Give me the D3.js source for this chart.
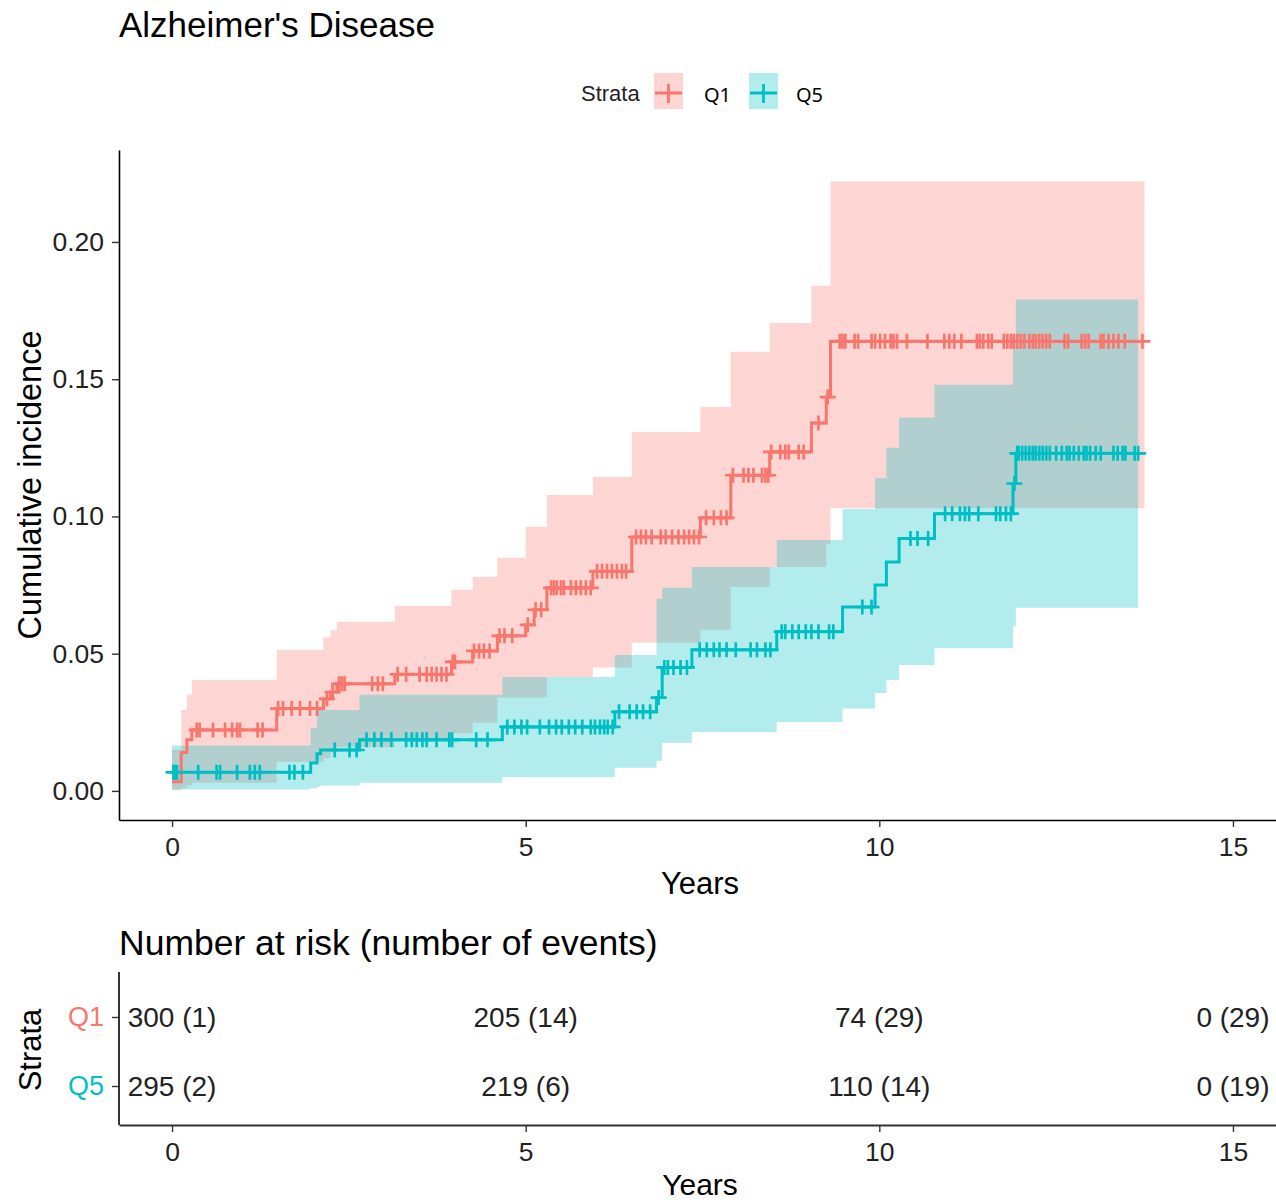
<!DOCTYPE html>
<html>
<head>
<meta charset="utf-8">
<script src="https://cdn.jsdelivr.net/npm/d3@7"></script>
<style>
    body { margin: 0; background: #fff; }
    text { font-family: "Liberation Sans", Arial, sans-serif; }
</style>
</head>
<body>
<svg id="chart" width="1276" height="1203"></svg>
<script>
// ---- data ----
const strata = ["Q1", "Q5"];
const xTicks = [0, 5, 10, 15];
const yTicks = [0, 0.05, 0.10, 0.15, 0.20];

// Q1 step function (time of each step, cumulative incidence and 95% band after it)
const q1Time  = [0, 0.13, 0.21, 0.28, 1.48, 2.14, 2.24, 2.33, 3.15, 3.95, 4.25, 4.60, 5.00, 5.12, 5.30, 5.95, 6.50, 7.47, 7.90, 8.45, 9.04, 9.25, 9.31];
const q1Est   = [0.0033, 0.0140, 0.0186, 0.0222, 0.0300, 0.0335, 0.0360, 0.0390, 0.0425, 0.0470, 0.0510, 0.0565, 0.0605, 0.0660, 0.0740, 0.0800, 0.0925, 0.0995, 0.1150, 0.1235, 0.1340, 0.1435, 0.1638];
const q1Upper = [0.0150, 0.0295, 0.0350, 0.0404, 0.0514, 0.0560, 0.0585, 0.0616, 0.0674, 0.0732, 0.0780, 0.0849, 0.0962, 0.0962, 0.1078, 0.1144, 0.1308, 0.1400, 0.1600, 0.1705, 0.1840, 0.1840, 0.2220];
const q1Lower = [0.0002, 0.0010, 0.0020, 0.0030, 0.0105, 0.0120, 0.0140, 0.0160, 0.0190, 0.0210, 0.0248, 0.0340, 0.0340, 0.0340, 0.0415, 0.0450, 0.0540, 0.0587, 0.0743, 0.0816, 0.0816, 0.0900, 0.1030];
const q1End = 13.75;
const q1Censor = [0.35, 0.39, 0.58, 0.75, 0.85, 0.92, 0.96, 1.21, 1.28,
    1.50, 1.57, 1.69, 1.81, 1.95, 2.05, 2.19, 2.27, 2.36, 2.40, 2.44,
    2.83, 2.91, 2.98, 3.19, 3.31, 3.50, 3.60, 3.67, 3.74, 3.81, 3.88, 3.97, 4.00,
    4.27, 4.34, 4.41, 4.49, 4.63, 4.70, 4.81, 5.03, 5.14, 5.22,
    5.36, 5.40, 5.44, 5.50, 5.54, 5.64, 5.71, 5.78, 5.85, 5.92,
    6.01, 6.08, 6.15, 6.22, 6.29, 6.36, 6.42,
    6.56, 6.63, 6.70, 6.78, 6.91, 6.98, 7.07, 7.16, 7.24, 7.31, 7.38, 7.45,
    7.55, 7.66, 7.76, 7.84, 7.93, 8.08, 8.15, 8.22, 8.34, 8.39, 8.43,
    8.47, 8.60, 8.67, 8.72, 8.86, 8.93, 9.14, 9.27,
    9.44, 9.48, 9.52, 9.65, 9.70, 9.89, 9.94, 10.01, 10.08, 10.16, 10.20, 10.25, 10.39,
    10.68, 10.92, 10.99, 11.06, 11.16, 11.38, 11.42, 11.47, 11.54, 11.59, 11.76, 11.81,
    11.86, 11.90, 11.95, 12.00, 12.05, 12.12, 12.17, 12.21, 12.26, 12.31, 12.36, 12.41,
    12.62, 12.67, 12.86, 12.91, 12.96, 13.13, 13.17, 13.24, 13.31, 13.38, 13.47, 13.72];

// Q5 step function
const q5Time  = [0, 1.96, 2.05, 2.10, 2.65, 4.67, 6.26, 6.85, 6.93, 7.35, 8.55, 9.48, 9.94, 10.10, 10.28, 10.78, 11.89, 11.93];
const q5Est   = [0.0068, 0.0102, 0.0135, 0.0149, 0.0186, 0.0233, 0.0288, 0.0340, 0.0450, 0.0514, 0.0580, 0.0670, 0.0750, 0.0834, 0.0920, 0.1010, 0.1120, 0.1230];
const q5Upper = [0.0165, 0.0230, 0.0295, 0.0295, 0.0350, 0.0415, 0.0495, 0.0700, 0.0740, 0.0816, 0.0914, 0.1027, 0.1140, 0.1250, 0.1360, 0.1480, 0.1650, 0.1790];
const q5Lower = [0.0005, 0.0010, 0.0015, 0.0020, 0.0030, 0.0051, 0.0084, 0.0110, 0.0175, 0.0215, 0.0251, 0.0300, 0.0357, 0.0404, 0.0459, 0.0520, 0.0600, 0.0667];
const q5End = 13.66;
const q5Censor = [0.02, 0.04, 0.07, 0.37, 0.63, 0.68, 0.92, 1.10, 1.17, 1.24, 1.66, 1.73, 1.85,
    2.30, 2.51, 2.61,
    2.75, 2.86, 2.96, 3.10, 3.31, 3.39, 3.46, 3.54, 3.60, 3.74, 3.92, 3.96, 4.30, 4.46,
    4.74, 4.84, 4.94, 5.02, 5.20, 5.33, 5.43, 5.51, 5.61, 5.70, 5.80, 5.92, 5.98, 6.05, 6.11, 6.16, 6.23,
    6.32, 6.47, 6.57, 6.66, 6.76, 6.88,
    6.96, 7.01, 7.09, 7.19, 7.28,
    7.46, 7.56, 7.66, 7.74, 7.84, 7.97, 8.18, 8.27, 8.39, 8.46,
    8.62, 8.67, 8.77, 8.86, 8.96, 9.04, 9.14, 9.29, 9.35,
    9.76, 9.89, 10.44, 10.54, 10.69,
    10.93, 11.03, 11.14, 11.21, 11.27, 11.40, 11.65, 11.71, 11.79, 11.86, 11.91,
    11.95, 11.97, 12.02, 12.07, 12.12, 12.17, 12.21, 12.26, 12.31, 12.36, 12.41, 12.50,
    12.58, 12.65, 12.69, 12.75, 12.82, 12.89, 12.93, 12.98, 13.06, 13.13, 13.31, 13.37,
    13.44, 13.48, 13.61, 13.66];

// number at risk table
const riskTimes = [0, 5, 10, 15];
const q1AtRisk = [300, 205, 74, 0];
const q1Events = [1, 14, 29, 29];
const q5AtRisk = [295, 219, 110, 0];
const q5Events = [2, 6, 14, 19];

// ---- drawing ----
const colors = { Q1: "#F8766D", Q5: "#00BFC4" };
const svg = d3.select("#chart");

const x = d3.scaleLinear().domain([-0.75, 15.75]).range([119, 1286]);
const y = d3.scaleLinear().domain([-0.0106, 0.2335]).range([820, 150]);

// build step series, repeating the last values at the end time
function buildSeries(times, est, lower, upper, end) {
    const rows = times.map((t, i) => ({ t: t, est: est[i], lo: lower[i], hi: upper[i] }));
    const last = rows[rows.length - 1];
    rows.push({ t: end, est: last.est, lo: last.lo, hi: last.hi });
    return rows;
}

const series = [
    { name: "Q1", rows: buildSeries(q1Time, q1Est, q1Lower, q1Upper, q1End), times: q1Time, est: q1Est, censor: q1Censor },
    { name: "Q5", rows: buildSeries(q5Time, q5Est, q5Lower, q5Upper, q5End), times: q5Time, est: q5Est, censor: q5Censor }
];

function valueAt(times, values, t) {
    const i = d3.bisectRight(times, t) - 1;
    return values[Math.max(i, 0)];
}

const area = d3.area()
    .curve(d3.curveStepAfter)
    .x(d => x(d.t))
    .y0(d => y(d.lo))
    .y1(d => y(d.hi));

const line = d3.line()
    .curve(d3.curveStepAfter)
    .x(d => x(d.t))
    .y(d => y(d.est));

// confidence ribbons
svg.append("g").selectAll("path")
    .data(series)
    .enter()
    .append("path")
    .attr("d", s => area(s.rows))
    .attr("fill", s => colors[s.name])
    .attr("fill-opacity", 0.3);

// curves
svg.append("g").selectAll("path")
    .data(series)
    .enter()
    .append("path")
    .attr("d", s => line(s.rows))
    .attr("fill", "none")
    .attr("stroke", s => colors[s.name])
    .attr("stroke-width", 3);

// censor marks
series.forEach(s => {
    svg.append("g").selectAll("path")
        .data(s.censor)
        .enter()
        .append("path")
        .attr("d", t => {
            const cx = x(t), cy = y(valueAt(s.times, s.est, t));
            return `M${cx - 8},${cy}H${cx + 8}M${cx},${cy - 7.5}V${cy + 7.5}`;
        })
        .attr("stroke", colors[s.name])
        .attr("stroke-width", 2.7)
        .attr("fill", "none");
});

// axes of the main panel
const yAxis = svg.append("g")
    .attr("transform", "translate(119,0)")
    .call(d3.axisLeft(y).tickValues(yTicks).tickFormat(d3.format(".2f")).tickSize(7).tickSizeOuter(0).tickPadding(8));

const xAxis = svg.append("g")
    .attr("transform", "translate(0,820)")
    .call(d3.axisBottom(x).tickValues(xTicks).tickSize(7).tickSizeOuter(0).tickPadding(10));

[yAxis, xAxis].forEach(a => {
    a.select(".domain").attr("stroke", "#000").attr("stroke-width", 1.6);
    a.selectAll(".tick line").attr("stroke", "#333").attr("stroke-width", 1.4);
    a.selectAll(".tick text").attr("fill", "#222").style("font-size", "26.5px");
});

svg.append("text")
    .attr("x", 119).attr("y", 37)
    .style("font-size", "35px").attr("fill", "#000")
    .text("Alzheimer's Disease");

svg.append("text")
    .attr("x", 700).attr("y", 894)
    .attr("text-anchor", "middle")
    .style("font-size", "31px").attr("fill", "#000")
    .text("Years");

svg.append("text")
    .attr("transform", "translate(41,485) rotate(-90)")
    .attr("text-anchor", "middle")
    .style("font-size", "32.5px").attr("fill", "#000")
    .text("Cumulative incidence");

// legend
const legend = svg.append("g");
legend.append("text")
    .attr("x", 581).attr("y", 101)
    .style("font-size", "22px").attr("fill", "#222")
    .text("Strata");

const legendItems = [
    { name: "Q1", keyX: 654, labelX: 704 },
    { name: "Q5", keyX: 749, labelX: 796 }
];
legendItems.forEach(item => {
    legend.append("rect")
        .attr("x", item.keyX).attr("y", 73)
        .attr("width", 29).attr("height", 36)
        .attr("fill", colors[item.name]).attr("fill-opacity", 0.3);
    const cx = item.keyX + 14.5;
    legend.append("path")
        .attr("d", `M${item.keyX + 1},93H${item.keyX + 28}M${cx},84V103`)
        .attr("stroke", colors[item.name])
        .attr("stroke-width", 2.8);
    legend.append("text")
        .attr("x", item.labelX).attr("y", 102)
        .style("font-family", "'Noto Sans', sans-serif")
        .style("font-size", "20px").attr("fill", "#000")
        .text(item.name);
});

// ---- number at risk table ----
svg.append("text")
    .attr("x", 119).attr("y", 955)
    .style("font-size", "35.5px").attr("fill", "#000")
    .text("Number at risk (number of events)");

const yr = d3.scalePoint().domain(strata).range([1017, 1086]);

const riskRows = [
    { name: "Q1", atRisk: q1AtRisk, events: q1Events },
    { name: "Q5", atRisk: q5AtRisk, events: q5Events }
];

riskRows.forEach(r => {
    svg.append("g").selectAll("text")
        .data(riskTimes)
        .enter()
        .append("text")
        .attr("x", t => x(t))
        .attr("y", yr(r.name) + 10)
        .attr("text-anchor", "middle")
        .style("font-size", "28px").attr("fill", "#222")
        .text((t, i) => `${r.atRisk[i]} (${r.events[i]})`);
});

const riskY = svg.append("g")
    .attr("transform", "translate(119,0)")
    .call(d3.axisLeft(yr).tickSize(7).tickSizeOuter(0).tickPadding(8));
riskY.select(".domain").remove();
riskY.selectAll(".tick line").attr("stroke", "#333").attr("stroke-width", 1.4);
riskY.selectAll(".tick text")
    .style("font-size", "27px")
    .attr("fill", d => colors[d]);

svg.append("line")
    .attr("x1", 119).attr("x2", 119)
    .attr("y1", 972).attr("y2", 1125)
    .attr("stroke", "#000").attr("stroke-width", 1.6);

const riskX = svg.append("g")
    .attr("transform", "translate(0,1125)")
    .call(d3.axisBottom(x).tickValues(xTicks).tickSize(7).tickSizeOuter(0).tickPadding(10));
riskX.select(".domain").attr("stroke", "#333").attr("stroke-width", 2.2);
riskX.selectAll(".tick line").attr("stroke", "#333").attr("stroke-width", 1.4);
riskX.selectAll(".tick text").attr("fill", "#222").style("font-size", "26.5px");

svg.append("text")
    .attr("x", 700).attr("y", 1195)
    .attr("text-anchor", "middle")
    .style("font-size", "30px").attr("fill", "#000")
    .text("Years");

svg.append("text")
    .attr("transform", "translate(41,1050) rotate(-90)")
    .attr("text-anchor", "middle")
    .style("font-size", "31px").attr("fill", "#000")
    .text("Strata");
</script>
</body>
</html>
